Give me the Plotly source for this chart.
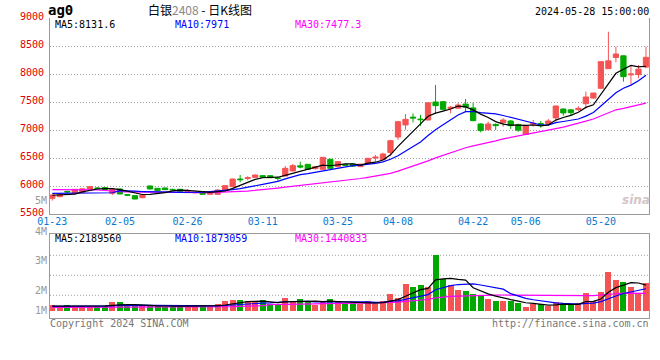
import plotly.graph_objects as go
import pandas as pd

# ---------------- data ----------------
dates = ["01-23", "01-24", "01-25", "01-26", "01-29", "01-30", "01-31",
         "02-01", "02-02", "02-05", "02-06", "02-07", "02-08", "02-19", "02-20",
         "02-21", "02-22", "02-23", "02-26", "02-27", "02-28", "02-29",
         "03-01", "03-04", "03-05", "03-06", "03-07", "03-08", "03-11", "03-12",
         "03-13", "03-14", "03-15", "03-18", "03-19", "03-20", "03-21", "03-22",
         "03-25", "03-26", "03-27", "03-28", "03-29",
         "04-01", "04-02", "04-03", "04-08", "04-09", "04-10", "04-11", "04-12",
         "04-15", "04-16", "04-17", "04-18", "04-19", "04-22", "04-23", "04-24",
         "04-25", "04-26", "04-29", "04-30",
         "05-06", "05-07", "05-08", "05-09", "05-10", "05-13", "05-14", "05-15",
         "05-16", "05-17", "05-20", "05-21", "05-22", "05-23", "05-24", "05-27", "05-28"]

opens = [5785, 5815, 5908, 5875, 5895, 5946, 5970, 5976, 5875, 5952,
         5850, 5833, 5797, 6006, 5964, 5970, 5945, 5946, 5905, 5885,
         5904, 5857, 5857, 5922, 5994, 6130, 6140, 6160, 6190, 6190,
         6150, 6184, 6273, 6365, 6392, 6315, 6303, 6482, 6351, 6385,
         6398, 6352, 6410, 6505, 6475, 6605, 6880, 7095, 7235, 7200,
         7184, 7505, 7511, 7392, 7395, 7468, 7400, 7113, 7010, 7105,
         7136, 7166, 7100, 6925, 7105, 7120, 7119, 7220, 7380, 7365,
         7370, 7475, 7575, 7750, 8100, 8300, 8330, 7990, 7995, 8130]
highs = [5850, 5870, 5920, 5950, 5965, 6000, 5985, 5982, 5952, 5958,
         5860, 5840, 5850, 6010, 5970, 5975, 5958, 5950, 5950, 5905,
         5910, 5892, 5940, 6015, 6135, 6202, 6180, 6210, 6200, 6195,
         6172, 6363, 6398, 6440, 6400, 6360, 6525, 6490, 6450, 6405,
         6405, 6400, 6505, 6560, 6600, 6830, 7160, 7290, 7300, 7275,
         7495, 7810, 7520, 7434, 7490, 7559, 7493, 7125, 7154, 7124,
         7214, 7184, 7120, 7090, 7184, 7166, 7202, 7440, 7392, 7380,
         7434, 7690, 7670, 8230, 8760, 8494, 8340, 8166, 8166, 8494]
lows = [5744, 5805, 5885, 5870, 5880, 5940, 5950, 5935, 5845, 5855,
        5825, 5768, 5785, 5948, 5918, 5936, 5925, 5900, 5895, 5875,
        5850, 5850, 5850, 5918, 5990, 6071, 6110, 6150, 6155, 6145,
        6100, 6180, 6270, 6320, 6298, 6300, 6300, 6315, 6340, 6360,
        6350, 6345, 6405, 6440, 6470, 6540, 6830, 7010, 7140, 7080,
        7180, 7300, 7360, 7303, 7385, 7333, 7165, 6964, 7000, 7005,
        7065, 7024, 6975, 6920, 7065, 7047, 7110, 7154, 7262, 7262,
        7345, 7392, 7565, 7738, 8095, 8214, 7869, 7821, 7928, 8107]
closes = [5845, 5863, 5900, 5946, 5955, 5994, 5962, 5940, 5946, 5863,
          5842, 5773, 5845, 5952, 5922, 5940, 5938, 5904, 5925, 5892,
          5857, 5886, 5934, 6012, 6130, 6118, 6154, 6202, 6160, 6154,
          6142, 6321, 6369, 6345, 6303, 6351, 6517, 6321, 6440, 6375,
          6360, 6395, 6500, 6520, 6577, 6815, 7154, 7196, 7220, 7190,
          7490, 7440, 7374, 7410, 7452, 7415, 7172, 6995, 7113, 7083,
          7184, 7083, 7003, 7080, 7125, 7105, 7166, 7434, 7310, 7315,
          7392, 7595, 7665, 8226, 8240, 8362, 7958, 8005, 8092, 8303]
volumes = [500000, 360000, 500000, 420000, 420000, 420000, 420000, 420000, 690000, 690000,
           420000, 420000, 420000, 420000, 420000, 310000, 420000, 420000, 500000, 420000,
           420000, 310000, 580000, 780000, 920000, 860000, 780000, 690000, 860000, 580000,
           580000, 1080000, 780000, 1000000, 780000, 500000, 830000, 1000000, 830000, 640000,
           640000, 580000, 830000, 580000, 830000, 1420000, 1080000, 2250000, 2000000, 2170000,
           1940000, 4610000, 2670000, 2170000, 1750000, 1670000, 1420000, 1280000, 1000000, 830000,
           830000, 830000, 640000, 310000, 580000, 580000, 360000, 750000, 580000, 470000,
           640000, 1500000, 830000, 1580000, 3250000, 2580000, 2420000, 2000000, 1420000, 2330000]

# moving-average values at the start of the chart (need history before 01-23)
ma5_head = [5840, 5845, 5852, 5862]
ma10_head = [5875, 5875, 5875, 5876, 5877, 5878, 5880, 5882, 5885]
ma30_head = [5940, 5940, 5940, 5940, 5940, 5938, 5935, 5925, 5912, 5905,
             5902, 5900, 5895, 5890, 5888, 5887, 5887, 5887, 5887, 5887,
             5887, 5888, 5890, 5895, 5902, 5908, 5915, 5925, 5940]
vma5_head = [400000, 400000, 410000, 420000]
vma10_head = [380000, 380000, 385000, 390000, 395000, 400000, 405000, 410000, 420000]
vma30_head = [310000, 310000, 310000, 312000, 312000, 314000, 314000, 315000, 316000, 316000,
              318000, 318000, 320000, 320000, 320000, 322000, 322000, 325000, 325000, 328000,
              330000, 330000, 340000, 350000, 360000, 380000, 400000, 420000, 440000]

tick_dates = ["01-23", "02-05", "02-26", "03-11", "03-25", "04-08", "04-22", "05-06", "05-20"]
price_ticks = [5500, 6000, 6500, 7000, 7500, 8000, 8500, 9000]
vol_axis_labels = ["5M", "4M", "3M", "2M", "1M"]
price_ma_labels = ["MA5:8131.6", "MA10:7971", "MA30:7477.3"]
vol_ma_labels = ["MA5:2189560", "MA10:1873059", "MA30:1440833"]
code_text = "ag0"
title_parts = ["白银", "2408", " - 日K线图"]
timestamp = "2024-05-28 15:00:00"
footer_left = "Copyright 2024 SINA.COM"
footer_right = "http://finance.sina.com.cn"

# ---------------- derived ----------------
n = len(dates)
idx = list(range(n))
cs = pd.Series(closes, dtype=float)
vs = pd.Series(volumes, dtype=float)


def with_head(series, win, head):
    m = series.rolling(win).mean().tolist()
    m[:len(head)] = head
    return m


ma5 = with_head(cs, 5, ma5_head)
ma10 = with_head(cs, 10, ma10_head)
ma30 = with_head(cs, 30, ma30_head)
vma5 = with_head(vs, 5, vma5_head)
vma10 = with_head(vs, 10, vma10_head)
vma30 = with_head(vs, 30, vma30_head)

# ---------------- styling / layout geometry ----------------
W, H = 660, 360
L, R = 50, 649
PT, PB = 18.3, 214.3
VT, VB = 234.3, 318.3
VBASE = 311.0
VPX_PER_UNIT = 12.0 / 1e6
CAND_X0, CAND_PITCH = 52.3, 7.515
GRID_PITCH = 7.6

UP = "#f55454"
DN = "#00a800"
FRAME = "#9a9a9a"
GRID = "#a0a0a0"
XLAB = "#0a78d2"
MONO = "DejaVu Sans Mono"
CJK = "Noto Sans CJK SC"
C_MA5, C_MA10, C_MA30 = "#000000", "#0000ff", "#ff00ff"

xr = [(L - CAND_X0) / CAND_PITCH, (R - CAND_X0) / CAND_PITCH]
gr = [0, (R - L) / GRID_PITCH]
xdom = [L / W, R / W]
pdom = [1 - PB / H, 1 - PT / H]
vdom = [1 - VB / H, 1 - VT / H]
vlo = -(VB - VBASE) / VPX_PER_UNIT
vhi = (VBASE - VT) / VPX_PER_UNIT
tickvals = [dates.index(d) for d in tick_dates]

fig = go.Figure()

fig.add_trace(go.Candlestick(
    x=idx, open=opens, high=highs, low=lows, close=closes,
    increasing=dict(line=dict(color=UP, width=1), fillcolor=UP),
    decreasing=dict(line=dict(color=DN, width=1), fillcolor=DN),
    whiskerwidth=0, xaxis="x", yaxis="y", hoverinfo="skip"))

for vals, col in [(ma30, C_MA30), (ma10, C_MA10), (ma5, C_MA5)]:
    fig.add_trace(go.Scatter(x=idx, y=vals, mode="lines", line=dict(color=col, width=1.2),
                             xaxis="x", yaxis="y", hoverinfo="skip"))

vcolors = [UP if c >= o else DN for o, c in zip(opens, closes)]
fig.add_trace(go.Bar(x=idx, y=volumes, marker=dict(color=vcolors, line=dict(width=0)),
                     width=0.8, xaxis="x2", yaxis="y2", hoverinfo="skip"))
for vals, col in [(vma30, C_MA30), (vma10, C_MA10), (vma5, C_MA5)]:
    fig.add_trace(go.Scatter(x=idx, y=vals, mode="lines", line=dict(color=col, width=1.2),
                             xaxis="x2", yaxis="y2", hoverinfo="skip"))


def px(x):
    return x / W


def py(y):
    return 1 - y / H


ann = []


def text(x, y, s, color="#000", size=10, family=MONO, xanchor="left"):
    ann.append(dict(x=px(x), y=py(y), xref="paper", yref="paper", text=s, showarrow=False,
                    xanchor=xanchor, yanchor="middle", borderpad=0, borderwidth=0,
                    font=dict(family=family, size=size, color=color)))


text(48, 10, "<b>" + code_text + "</b>", size=14)
text(200, 9.8, title_parts[0] + "<span style='color:#888888'>" + title_parts[1] + "</span>" + title_parts[2],
     size=12, family=CJK, xanchor="center")
text(649, 12, timestamp, xanchor="right")
for s, x, col in zip(price_ma_labels, [55, 175, 295], [C_MA5, C_MA10, C_MA30]):
    text(x, 24.8, s, color=col)
for s, x, col in zip(vol_ma_labels, [55, 175, 295], [C_MA5, C_MA10, C_MA30]):
    text(x, 238, s, color=col)
for s, y in zip(vol_axis_labels, [200.5, 231.5, 260.5, 290.5, 310.5]):
    text(47, y, s, color="#999999", xanchor="right")
text(50, 323.5, footer_left, color="#777777")
text(649, 323.5, footer_right, color="#777777", xanchor="right")
text(636, 200, "<b><i>sina</i></b>", color="#d2c6c6", size=12, family="DejaVu Sans", xanchor="center")

shapes = []
for f in [0.274, 0.512, 0.75]:
    shapes.append(dict(type="line", xref="x2 domain", yref="y2 domain", x0=0, x1=1, y0=f, y1=f,
                       line=dict(color=GRID, width=1, dash="1px,2px"), layer="below"))

fig.update_layout(
    template="none",
    width=W, height=H, autosize=False, margin=dict(l=0, r=0, t=0, b=0, pad=0),
    paper_bgcolor="white", plot_bgcolor="white", showlegend=False,
    boxgap=0.3, boxgroupgap=0, bargap=0,
    xaxis=dict(domain=xdom, range=xr, anchor="y", showgrid=False, zeroline=False,
               tickmode="array", tickvals=tickvals, ticktext=tick_dates, automargin=False,
               showticklabels=True, ticks="", tickfont=dict(family=MONO, size=10, color=XLAB),
               ticklabelstandoff=-2, ticklabeloverflow="allow",
               showline=True, linecolor=FRAME, linewidth=1,
               rangeslider=dict(visible=False), fixedrange=True),
    xaxis3=dict(domain=xdom, overlaying="x", anchor="y", range=gr, tickmode="array",
                tickvals=tickvals, showticklabels=False, showgrid=True, gridcolor=GRID,
                griddash="1px,2px", gridwidth=1, zeroline=False, showline=False, ticks="",
                automargin=False, side="bottom", fixedrange=True),
    yaxis=dict(domain=pdom, range=[price_ticks[0], price_ticks[-1]], anchor="x", tickmode="array",
               tickvals=price_ticks, ticktext=[str(v) for v in price_ticks], showgrid=True,
               gridcolor=GRID, griddash="1px,2px", gridwidth=1, zeroline=False, showline=True,
               mirror=True, linecolor=FRAME, linewidth=1, ticks="", automargin=False,
               tickfont=dict(family=MONO, size=10, color="#e00000"), ticklabelstandoff=3,
               ticklabelshift=-2, ticklabeloverflow="allow", fixedrange=True),
    xaxis2=dict(domain=xdom, range=xr, anchor="y2", showgrid=False, zeroline=False,
                showticklabels=False, ticks="", showline=True, mirror=True, linecolor=FRAME,
                linewidth=1, automargin=False, fixedrange=True),
    xaxis4=dict(domain=xdom, overlaying="x2", anchor="y2", range=gr, tickmode="array",
                tickvals=tickvals, showticklabels=False, showgrid=True, gridcolor=GRID,
                griddash="1px,2px", gridwidth=1, zeroline=False, showline=False, ticks="",
                automargin=False, fixedrange=True),
    yaxis2=dict(domain=vdom, range=[vlo, vhi], anchor="x2", showgrid=False, zeroline=False,
                showticklabels=False, ticks="", showline=True, mirror=True, linecolor=FRAME,
                linewidth=1, automargin=False, fixedrange=True),
    annotations=ann, shapes=shapes,
)

fig.write_html("out.html", config={"displayModeBar": False, "responsive": False},
               post_script="document.body.style.margin='0';")
